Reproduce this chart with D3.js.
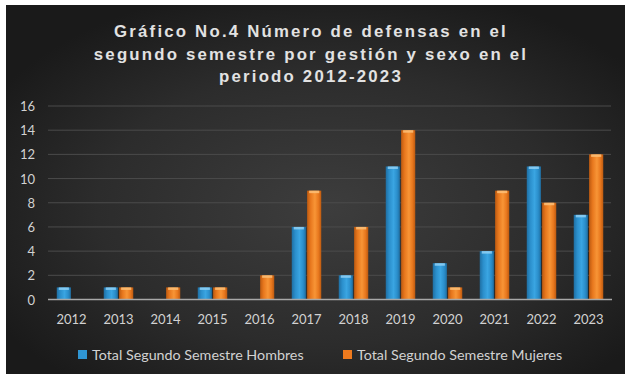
<!DOCTYPE html>
<html>
<head>
<meta charset="utf-8">
<script src="https://cdn.jsdelivr.net/npm/d3@7"></script>
<style>
  html, body { margin: 0; padding: 0; background: #ffffff; }
  svg { display: block; }
</style>
</head>
<body>
<svg id="chart" width="625" height="374"></svg>
<script>
// Años de gestión
const years = ["2012","2013","2014","2015","2016","2017","2018","2019","2020","2021","2022","2023"];
// Defensas del segundo semestre, hombres
const hombres = [1, 1, 0, 1, 0, 6, 2, 11, 3, 4, 11, 7];
// Defensas del segundo semestre, mujeres
const mujeres = [0, 1, 1, 1, 2, 9, 6, 14, 1, 9, 8, 12];
const seriesNames = ["Total Segundo Semestre Hombres", "Total Segundo Semestre Mujeres"];
const yTicks = [0, 2, 4, 6, 8, 10, 12, 14, 16];
const titleLines = [
  "Gráfico No.4 Número de defensas en el",
  "segundo semestre por gestión y sexo en el",
  "periodo 2012-2023"
];

const svg = d3.select("#chart");
const W = 625, H = 374;
const defs = svg.append("defs");

// Fondo oscuro con degradado radial
const bg = defs.append("radialGradient").attr("id", "bgGrad")
  .attr("cx", "0.52").attr("cy", "0.55").attr("r", "0.62");
bg.append("stop").attr("offset", "0%").attr("stop-color", "#3d3d3d");
bg.append("stop").attr("offset", "60%").attr("stop-color", "#2c2c2c");
bg.append("stop").attr("offset", "100%").attr("stop-color", "#1a1a1a");

svg.append("rect").attr("x", 6).attr("y", 5).attr("width", W - 6).attr("height", H - 5)
  .attr("fill", "url(#bgGrad)");

// Degradados de las barras (efecto biselado)
function barGradient(id, dark, mid, light) {
  const g = defs.append("linearGradient").attr("id", id)
    .attr("x1", "0").attr("x2", "1").attr("y1", "0").attr("y2", "0");
  g.append("stop").attr("offset", "0%").attr("stop-color", dark);
  g.append("stop").attr("offset", "25%").attr("stop-color", mid);
  g.append("stop").attr("offset", "55%").attr("stop-color", light);
  g.append("stop").attr("offset", "80%").attr("stop-color", mid);
  g.append("stop").attr("offset", "100%").attr("stop-color", dark);
}
barGradient("gBlue", "#1f6fa3", "#2b8fcc", "#3aa5e2");
barGradient("gOrange", "#bd5a10", "#e8781e", "#f89536");

const colors = ["url(#gBlue)", "url(#gOrange)"];
const capColors = ["#8fd0f5", "#fbc078"];
const legendColors = ["#2f95d2", "#ee7a1e"];

const x0 = d3.scaleBand().domain(years).range([48, 612]).paddingInner(0.32).paddingOuter(0.16);
const x1 = d3.scaleBand().domain([0, 1]).range([0, x0.bandwidth()]).padding(0.08);
const y = d3.scaleLinear().domain([0, 16]).range([299.5, 106]);

// Líneas de cuadrícula
svg.append("g").selectAll("line").data(yTicks.filter(d => d > 0)).join("line")
  .attr("x1", 48).attr("x2", 611)
  .attr("y1", d => y(d)).attr("y2", d => y(d))
  .attr("stroke", "#4b4b4b").attr("stroke-width", 1);

// Etiquetas del eje Y
const yAxis = d3.axisLeft(y).tickValues(yTicks).tickSize(0).tickPadding(0);
const yg = svg.append("g").attr("transform", "translate(35,0)").call(yAxis);
yg.select(".domain").remove();
yg.selectAll("text").attr("fill", "#d2d2d2").attr("font-family", "Lato, 'Open Sans', sans-serif")
  .attr("font-size", 13).attr("dy", "0.35em");

// Barras
const data = years.map((yr, i) => ({ yr, vals: [hombres[i], mujeres[i]] }));
const groups = svg.append("g").selectAll("g").data(data).join("g")
  .attr("transform", d => `translate(${x0(d.yr)},0)`);
groups.selectAll("rect.bar").data(d => d.vals.map((v, k) => ({ v, k })).filter(e => e.v > 0))
  .join("rect").attr("class", "bar")
  .attr("x", e => x1(e.k)).attr("width", x1.bandwidth())
  .attr("y", e => y(e.v)).attr("height", e => y(0) - y(e.v))
  .attr("fill", e => colors[e.k]);
groups.selectAll("rect.cap").data(d => d.vals.map((v, k) => ({ v, k })).filter(e => e.v > 0))
  .join("rect").attr("class", "cap")
  .attr("x", e => x1(e.k) + 2).attr("width", x1.bandwidth() - 4)
  .attr("y", e => y(e.v)).attr("height", 2.5)
  .attr("fill", e => capColors[e.k]).attr("opacity", 0.85);

// Eje X
svg.append("line").attr("x1", 48).attr("x2", 612).attr("y1", y(0)).attr("y2", y(0))
  .attr("stroke", "#a8a8a8").attr("stroke-width", 1.6);
const xAxis = d3.axisBottom(x0).tickSize(0).tickPadding(0);
const xg = svg.append("g").attr("transform", `translate(0,${y(0) + 20})`).call(xAxis);
xg.select(".domain").remove();
xg.selectAll("text").attr("fill", "#d2d2d2").attr("font-family", "Lato, 'Open Sans', sans-serif")
  .attr("font-size", 13).attr("dy", "0.35em");

// Título
svg.append("g").selectAll("text").data(titleLines).join("text")
  .attr("x", 311).attr("y", (d, i) => 37 + i * 22.5)
  .attr("text-anchor", "middle")
  .attr("font-family", "'Liberation Sans', Arial, sans-serif")
  .attr("font-weight", "bold").attr("font-size", 16.8)
  .attr("letter-spacing", 2.2)
  .attr("fill", "#e2e2e2")
  .text(d => d);

// Leyenda
const legendX = [78, 343];
const lg = svg.append("g").selectAll("g").data(seriesNames).join("g")
  .attr("transform", (d, i) => `translate(${legendX[i]},350)`);
lg.append("rect").attr("width", 9).attr("height", 9).attr("fill", (d, i) => legendColors[i]);
lg.append("text").attr("x", 14).attr("y", 4.5).attr("dy", "0.35em")
  .attr("fill", "#d2d2d2").attr("font-family", "Lato, 'Open Sans', sans-serif")
  .attr("font-size", 14.3)
  .text(d => d);
</script>
</body>
</html>
